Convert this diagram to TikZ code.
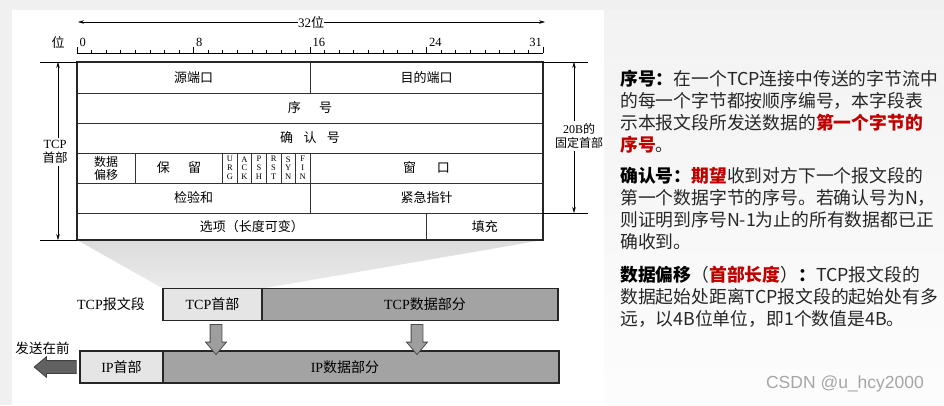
\documentclass[tikz,border=0pt]{standalone}
\usepackage{fontspec}
\setmainfont{Liberation Serif}
\newfontfamily\cjk{Noto Sans CJK SC}
\newfontfamily\wmfont{Liberation Sans}
\usetikzlibrary{arrows.meta,shapes.arrows,positioning,backgrounds}
\definecolor{keyred}{HTML}{C00000}
\newcommand{\zh}[1]{{\cjk #1}}
\newcommand{\kw}[1]{{\bfseries\color{black}#1}}
\newcommand{\kr}[1]{{\bfseries\color{keyred}#1}}

\begin{document}
\begin{tikzpicture}[x=1pt, y=-1pt,
    field/.style={draw=black!80, line width=0.6pt, inner sep=0pt, outer sep=0pt, font=\cjk\fontsize{13}{15}\selectfont},
    flag/.style={field, minimum width=14.5625pt, minimum height=30pt, align=center, font=\fontsize{8.5}{8.8}\selectfont},
    bitno/.style={inner sep=0pt, font=\fontsize{12.5}{14}\selectfont},
    sidelbl/.style={align=center, inner sep=2pt, font=\fontsize{12}{13.5}\selectfont},
    dimline/.style={line width=0.5pt, -{Stealth[length=6pt,width=3.5pt]}},
    seg/.style={draw=black!85, line width=1.2pt, minimum height=32pt, inner sep=0pt, outer sep=0pt, font=\fontsize{14}{16}\selectfont},
    hdrpart/.style={seg, fill=black!10},
    datapart/.style={seg, fill=black!36},
    downarr/.style={single arrow, draw=black!70, fill=black!38, line width=0.8pt, minimum height=30pt, inner xsep=0pt, inner ysep=5.5pt, single arrow head extend=4.5pt, single arrow tip angle=80, rotate=-90},
    note/.style={anchor=north west, align=left, inner sep=0pt, text=black!85, font=\cjk\fontsize{17.8}{22}\selectfont}
]
\useasboundingbox (0,0) rectangle (944,405);

% bit ruler
\node[bitno, font=\fontsize{13}{15}\selectfont] (widthlbl) at (311,22) {32\zh{位}};
\coordinate (wl) at (78,22);
\coordinate (wr) at (545,22);
\draw[dimline] (widthlbl) -- (wl);
\draw[dimline] (widthlbl) -- (wr);
\node[font=\cjk\fontsize{13}{15}\selectfont] (weilbl) at (58,42) {位};
\draw[line width=0.5pt] (77,53) -- (543,53);
\foreach \i in {0,...,32}
  \draw[line width=0.5pt] (77+\i*14.5625,53) -- (77+\i*14.5625,50);
\foreach \i in {0,8,16,24,32}
  \draw[line width=0.5pt] (77+\i*14.5625,53) -- (77+\i*14.5625,47);
\foreach \i in {0,8,16,24}
  \node[bitno, anchor=base west] (bit\i) at (79.5+\i*14.5625,46.5) {\i};
\node[bitno, anchor=base east] (bit31) at (542,46.5) {31};

% header fields
\node[field, minimum width=233pt, minimum height=31pt] (srcport) at (193.5,77.5) {源端口};
\node[field, minimum width=233pt, minimum height=31pt] (dstport) at (426.5,77.5) {目的端口};
\node[field, minimum width=466pt, minimum height=30pt] (seqno) at (310,108) {序\hspace{1.4em}号};
\node[field, minimum width=466pt, minimum height=30pt] (ackno) at (310,138) {确\hspace{0.8em}认\hspace{0.8em}号};
\node[field, minimum width=58.25pt, minimum height=30pt, align=center, font=\cjk\fontsize{12}{13}\selectfont] (offset) at (106.125,168) {数据\\偏移};
\node[field, minimum width=87.375pt, minimum height=30pt] (resv) at (178.9375,168) {保\hspace{1.4em}留};
\foreach \a/\b/\c [count=\i from 0] in {U/R/G,A/C/K,P/S/H,R/S/T,S/Y/N,F/I/N}
  \node[flag] (flag\i) at (229.906+\i*14.5625,168) {\a\\\b\\\c};
\node[field, minimum width=233pt, minimum height=30pt] (window) at (426.5,168) {窗\hspace{1.6em}口};
\node[field, minimum width=233pt, minimum height=30pt] (checksum) at (193.5,198) {检验和};
\node[field, minimum width=233pt, minimum height=30pt] (urgent) at (426.5,198) {紧急指针};
\node[field, minimum width=349.5pt, minimum height=27pt] (opts) at (251.75,226.5) {选项（长度可变）};
\node[field, minimum width=116.5pt, minimum height=27pt] (pad) at (484.75,226.5) {填充};
\draw[line width=1.2pt, black!85] (srcport.north west) rectangle (pad.south east);

% 20B dimension lines
\coordinate (lext1) at (40,62);
\coordinate (lext2) at (40,240);
\coordinate (ltop) at (58,62);
\coordinate (lbot) at (58,240);
\draw[line width=0.6pt] (lext1) -- (srcport.north west);
\draw[line width=0.6pt] (lext2) -- (opts.south west);
\node[sidelbl, font=\fontsize{12.5}{14}\selectfont] (tcplbl) at (55,152) {TCP\\\zh{首部}};
\draw[dimline] (tcplbl.north -| ltop) -- (ltop);
\draw[dimline] (tcplbl.south -| lbot) -- (lbot);

\coordinate (rext1) at (588,62);
\coordinate (rext2) at (588,213);
\coordinate (rtop) at (574,62);
\coordinate (rbot) at (574,213);
\draw[line width=0.6pt] (dstport.north east) -- (rext1);
\draw[line width=0.6pt] (urgent.south east) -- (rext2);
\node[sidelbl, font=\fontsize{12}{14}\selectfont] (fixlbl) at (579,136) {20B\zh{的}\\\zh{固定首部}};
\draw[dimline] (fixlbl.north -| rtop) -- (rtop);
\draw[dimline] (fixlbl.south -| rbot) -- (rbot);

% TCP segment and IP datagram
\node[hdrpart, minimum width=99pt] (tcphdr) at (212.5,304.5) {TCP\zh{首部}};
\node[datapart, minimum width=296pt, right=0pt of tcphdr] (tcpdata) {\hspace*{30pt}TCP\zh{数据部分}};
\node[left=18pt of tcphdr, inner sep=0pt, font=\fontsize{14}{16}\selectfont] (seglbl) {TCP\zh{报文段}};
\node[hdrpart, minimum width=83pt] (iphdr) at (121.5,367) {IP\zh{首部}};
\node[datapart, minimum width=396pt, right=0pt of iphdr] (ipdata) {IP\zh{数据部分}\hspace*{32pt}};
\node[downarr] (arr1) at (216,336) {};
\node[downarr] (arr2) at (417,336) {};
\node[single arrow, draw=black!75, fill=black!62, line width=0.8pt, minimum height=42pt, inner xsep=0pt, inner ysep=6pt, single arrow head extend=4pt, single arrow tip angle=80, rotate=180] (sendarr) at (59,367) {};
\node[font=\cjk\fontsize{13.5}{15}\selectfont] (sendlbl) at (42.5,348) {发送在前};

% notes
\node[note] (seqnote) at (620,70) {\kw{序号：}在一个TCP连接中传送的字节流中\\
  的每一个字节都按顺序编号，本字段表\\
  示本报文段所发送数据的\kr{第一个字节的}\\
  \kr{序号}。};
\node[note] (acknote) at (620,167) {\kw{确认号：}\kr{期望}收到对方下一个报文段的\\
  第一个数据字节的序号。若确认号为N，\\
  则证明到序号N-1为止的所有数据都已正\\
  确收到。};
\node[note] (offnote) at (620,266) {\kw{数据偏移}（\kr{首部长度}）\kw{：}TCP报文段的\\
  数据起始处距离TCP报文段的起始处有多\\
  远，以4B位单位，即1个数值是4B。};
\node[font=\wmfont\fontsize{17.5}{19}\selectfont, text=black!35] (wm) at (845,384) {CSDN @u\_hcy2000};

\begin{pgfonlayer}{background}
  \fill[black!6] (0,0) rectangle (944,405);
  \fill[white] (12,10) rectangle (604,405);
  \shade[top color=black!5, bottom color=black!1] (604,10) rectangle (944,405);
  \shade[top color=black!14, bottom color=black!8] (opts.south west) -- (pad.south east) -- (tcphdr.north east) -- (tcphdr.north west) -- cycle;
\end{pgfonlayer}
\end{tikzpicture}
\end{document}
